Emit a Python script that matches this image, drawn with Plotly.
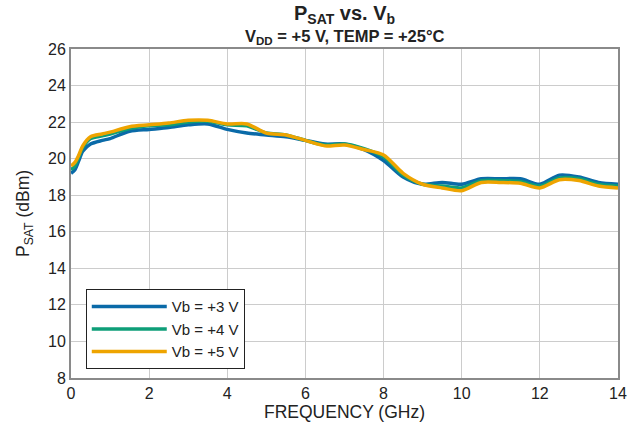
import plotly.graph_objects as go

freq = [0, 0.1, 0.2, 0.3, 0.5, 0.8, 1.0, 1.5, 2.0, 2.5, 3.0, 3.5, 4.0, 4.5, 5.0, 5.5, 6.0, 6.5, 7.0,
        7.5, 8.0, 8.5, 9.0, 9.5, 10.0, 10.5, 11.0, 11.5, 12.0, 12.5, 13.0, 13.5, 14.0]
vb3 = [19.2, 19.4, 19.9, 20.4, 20.8, 21.0, 21.1, 21.5, 21.6, 21.7, 21.85, 21.9, 21.6, 21.4, 21.3, 21.2,
       21.0, 20.8, 20.8, 20.5, 19.9, 19.0, 18.6, 18.7, 18.6, 18.9, 18.9, 18.9, 18.6, 19.1, 19.0, 18.7, 18.6]
vb4 = [19.4, 19.6, 20.1, 20.6, 21.1, 21.25, 21.35, 21.65, 21.8, 21.85, 22.0, 22.05, 21.85, 21.8, 21.4, 21.3,
       21.0, 20.75, 20.8, 20.55, 20.1, 19.1, 18.6, 18.5, 18.4, 18.8, 18.8, 18.75, 18.5, 18.95, 18.9, 18.6, 18.5]
vb5 = [19.6, 19.8, 20.2, 20.7, 21.2, 21.35, 21.45, 21.75, 21.85, 21.95, 22.1, 22.1, 21.9, 21.9, 21.4, 21.3,
       21.0, 20.7, 20.75, 20.5, 20.2, 19.2, 18.6, 18.4, 18.25, 18.7, 18.7, 18.65, 18.4, 18.85, 18.8, 18.5, 18.4]

series = [("Vb = +3 V", vb3, "#0a6aa8"), ("Vb = +4 V", vb4, "#0e9e78"), ("Vb = +5 V", vb5, "#eea400")]

fig = go.Figure()
for name, ys, col in series:
    fig.add_trace(go.Scatter(x=freq, y=ys, name=name, mode="lines",
                             line=dict(color=col, width=3.5, shape="spline", smoothing=0.8)))

font = "Liberation Sans, Arial, sans-serif"
fig.update_layout(
    width=639, height=434,
    margin=dict(l=71, r=15, t=49, b=56),
    paper_bgcolor="white", plot_bgcolor="white",
    font=dict(family=font, size=15, color="#222"),
    showlegend=True,
    legend=dict(x=0.027, y=0.27, xanchor="left", yanchor="top",
                bordercolor="#222", borderwidth=1, bgcolor="white",
                font=dict(size=15), tracegroupgap=0, itemwidth=75),
    xaxis=dict(range=[0, 14], dtick=2, showgrid=True, gridcolor="#cccccc", gridwidth=1,
               showline=True, linecolor="#8a8a8a", linewidth=2, mirror=True, zeroline=False,
               ticks="", tickfont=dict(size=16),
               title=dict(text="FREQUENCY (GHz)", font=dict(size=17.5), standoff=4)),
    yaxis=dict(range=[8, 26], dtick=2, showgrid=True, gridcolor="#cccccc", gridwidth=1,
               showline=True, linecolor="#8a8a8a", linewidth=2, mirror=True, zeroline=False,
               ticks="", tickfont=dict(size=16),
               title=dict(text="P<sub>SAT</sub> (dBm)", font=dict(size=17.5), standoff=14)),
)
fig.add_annotation(text="<b>P<sub>SAT</sub> vs. V<sub>b</sub></b>", xref="paper", yref="paper",
                   x=0.5, y=1.0, yshift=20, showarrow=False, font=dict(size=20, color="#222"),
                   xanchor="center", yanchor="bottom")
fig.add_annotation(text="<b>V<sub>DD</sub> = +5 V, TEMP = +25°C</b>", xref="paper", yref="paper",
                   x=0.5, y=1.0, yshift=0, showarrow=False, font=dict(size=16.5, color="#222"),
                   xanchor="center", yanchor="bottom")
fig.write_html("out.html")
